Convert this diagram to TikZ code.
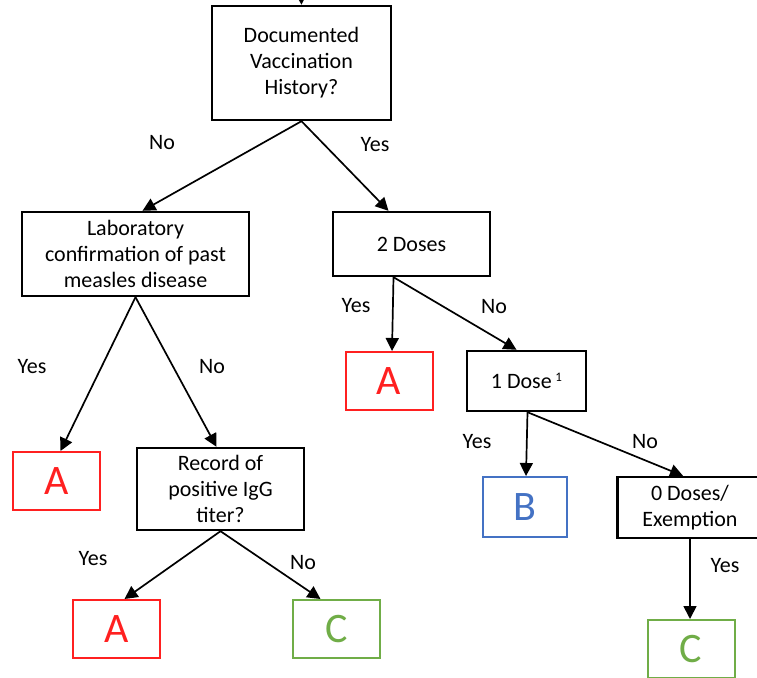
\documentclass[tikz,border=0pt]{standalone}
\usepackage{fontspec}
\setmainfont{Carlito}
\usetikzlibrary{arrows.meta}

\definecolor{resred}{HTML}{FF2020}
\definecolor{resblue}{HTML}{4472C4}
\definecolor{resgreen}{HTML}{70AD47}

\tikzstyle{question}=[draw=black, line width=2.4pt, fill=white, align=center, inner sep=0pt,
  font=\fontsize{22}{26}\selectfont]
\tikzstyle{result}=[draw, line width=2pt, fill=white, inner sep=0pt,
  minimum width=87pt, minimum height=58pt, font=\fontsize{42}{42}\selectfont]
\tikzstyle{answer}=[inner sep=0pt, font=\fontsize{22}{24}\selectfont]
\tikzstyle{flow}=[line width=1.7pt, -{Triangle[length=13pt,width=13pt]}]

\begin{document}
\begin{tikzpicture}[x=1pt, y=-1pt]
    \useasboundingbox (0,0) rectangle (757,677);

    \coordinate (entry) at (301,-12);

    \path (301.5,63) node[question, minimum width=179pt, minimum height=114pt] (hist)
      {Documented\\Vaccination\\History?};
    \path (135.5,254) node[question, minimum width=227pt, minimum height=84pt] (lab)
      {Laboratory\\confirmation of past\\measles disease};
    \path (411.5,244) node[question, minimum width=157pt, minimum height=64pt] (two)
      {2 Doses};
    \path (220.5,489) node[question, minimum width=167pt, minimum height=82pt] (igg)
      {Record of\\positive IgG\\titer?};
    \path (526.5,381) node[question, minimum width=119pt, minimum height=60pt] (one)
      {1 Dose\,{\fontsize{13}{13}\selectfont\raisebox{7pt}{1}}};
    \path (690,507.5) node[question, minimum width=145pt, minimum height=61pt] (zero)
      {0 Doses/\\Exemption};

    \path (56.5,481) node[result, draw=resred, text=resred] (aLab) {A};
    \path (389,381) node[result, draw=resred, text=resred] (aTwo) {A};
    \path (116.5,629) node[result, draw=resred, text=resred] (aIgg) {A};
    \path (336.5,629) node[result, draw=resgreen, text=resgreen] (cIgg) {C};
    \path (525,507) node[result, draw=resblue, text=resblue, minimum width=84pt, minimum height=60pt] (bOne) {B};
    \path (691,649) node[result, draw=resgreen, text=resgreen] (cZero) {C};

    \draw[flow] (entry) -- (hist.north);
    \draw[flow] (hist.south) -- ([xshift=7pt]lab.north);
    \draw[flow] (hist.south) -- ([xshift=-23pt]two.north);
    \draw[flow] (lab.south) -- ([xshift=4pt]aLab.north);
    \draw[flow] (lab.south) -- ([xshift=-4pt]igg.north);
    \draw[flow] ([xshift=-18pt]two.south) -- ([xshift=3pt]aTwo.north);
    \draw[flow] ([xshift=-18pt]two.south) -- ([xshift=-10pt]one.north);
    \draw[flow] ([xshift=1pt]one.south) -- ([xshift=1pt]bOne.north);
    \draw[flow] ([xshift=1pt]one.south) -- ([xshift=-7pt]zero.north);
    \draw[flow] (igg.south) -- ([xshift=8pt]aIgg.north);
    \draw[flow] (igg.south) -- ([xshift=-16pt]cIgg.north);
    \draw[flow] (zero.south) -- ([xshift=-1pt]cZero.north);

    % branch labels
    \path (162,143) node[answer] (nHist) {No};
    \path (375,145) node[answer] (yHist) {Yes};
    \path (32,367) node[answer] (yLab) {Yes};
    \path (212,367) node[answer] (nLab) {No};
    \path (356,306) node[answer] (yTwo) {Yes};
    \path (494,307) node[answer] (nTwo) {No};
    \path (477,442) node[answer] (yOne) {Yes};
    \path (645,442) node[answer] (nOne) {No};
    \path (93,559) node[answer] (yIgg) {Yes};
    \path (303,563) node[answer] (nIgg) {No};
    \path (725,566) node[answer] (yZero) {Yes};
\end{tikzpicture}
\end{document}
